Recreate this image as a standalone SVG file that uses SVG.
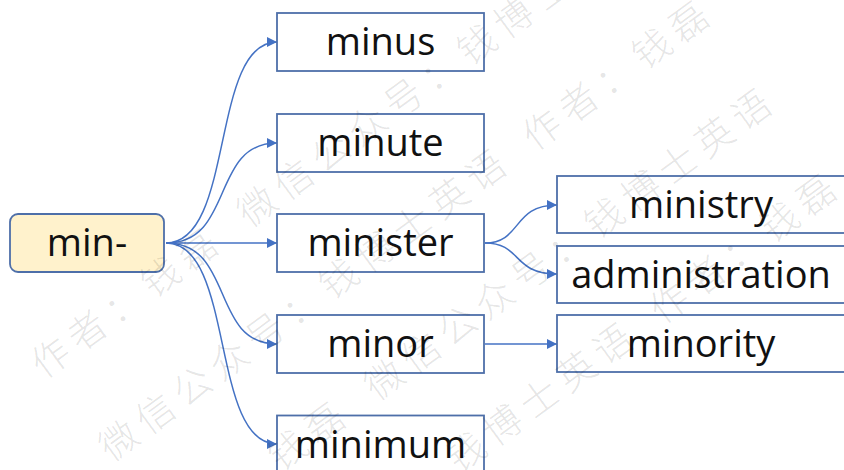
<svg xmlns="http://www.w3.org/2000/svg" width="844" height="470" viewBox="0 0 844 470">
<defs>
<style>
.box{fill:#ffffff;stroke:#4e6fa9;stroke-width:1.8}
.root{fill:#fff2cc;stroke:#4e6fa9;stroke-width:1.8}
.lbl{font-family:"Open Sans","Noto Sans",sans-serif;font-size:38px;fill:#111111;text-anchor:middle}
.edge{fill:none;stroke:#4472c4;stroke-width:1.5;marker-end:url(#arrow)}
.wm{font-family:"Noto Sans CJK SC","Noto Sans CJK JP",sans-serif;font-size:38px;font-weight:300;letter-spacing:7.5px;fill:#000000;fill-opacity:0.11}
</style>
<marker id="arrow" viewBox="0 0 10 10" refX="10" refY="5" markerWidth="11" markerHeight="10" markerUnits="userSpaceOnUse" orient="auto">
<path d="M0,0 L10,5 L0,10 Z" fill="#4472c4"/>
</marker>
</defs>
<rect width="844" height="470" fill="#ffffff"/>
<g id="connectors">
<path class="edge" d="M166,243 C235,243 210,42 277,42"/>
<path class="edge" d="M166,243 C235,243 210,143 277,143"/>
<path class="edge" d="M166,243 L277,243"/>
<path class="edge" d="M166,243 C235,243 210,344 277,344"/>
<path class="edge" d="M166,243 C235,243 210,444 277,444"/>
<path class="edge" d="M485,243 C522,243 512,205 557,205"/>
<path class="edge" d="M485,243 C522,243 512,274 557,274"/>
<path class="edge" d="M485,344 L557,344"/>
</g>
<g id="node-min">
<rect class="root" x="10" y="214" width="154" height="58" rx="8"/>
<text class="lbl" x="87" y="256">min-</text>
</g>
<g id="node-minus">
<rect class="box" x="277" y="13" width="207" height="58"/>
<text class="lbl" x="380.5" y="55">minus</text>
</g>
<g id="node-minute">
<rect class="box" x="277" y="114" width="207" height="58"/>
<text class="lbl" x="380.5" y="156">minute</text>
</g>
<g id="node-minister">
<rect class="box" x="277" y="214" width="207" height="58"/>
<text class="lbl" x="380.5" y="256">minister</text>
</g>
<g id="node-minor">
<rect class="box" x="277" y="315" width="207" height="58"/>
<text class="lbl" x="380.5" y="357">minor</text>
</g>
<g id="node-minimum">
<rect class="box" x="277" y="415.5" width="207" height="60"/>
<text class="lbl" x="380.5" y="458">minimum</text>
</g>
<g id="node-ministry">
<rect class="box" x="557" y="176" width="288" height="57"/>
<text class="lbl" x="701" y="218">ministry</text>
</g>
<g id="node-administration">
<rect class="box" x="557" y="246" width="288" height="57"/>
<text class="lbl" x="701" y="288">administration</text>
</g>
<g id="node-minority">
<rect class="box" x="557" y="315" width="288" height="57"/>
<text class="lbl" x="701" y="357">minority</text>
</g>
<g id="watermark" transform="rotate(-36.3)">
<text class="wm" y="332"><tspan x="-190">作者：钱磊</tspan><tspan x="66">微信公众号：钱博士英语</tspan></text>
<text class="wm" y="439"><tspan x="-184">微信公众号：钱博士英语</tspan><tspan x="341">作者：钱磊</tspan></text>
<text class="wm" y="547"><tspan x="-190">作者：钱磊</tspan><tspan x="66">微信公众号：钱博士英语</tspan></text>
<text class="wm" y="654"><tspan x="-184">微信公众号：钱博士英语</tspan><tspan x="341">作者：钱磊</tspan></text>
</g>
</svg>
